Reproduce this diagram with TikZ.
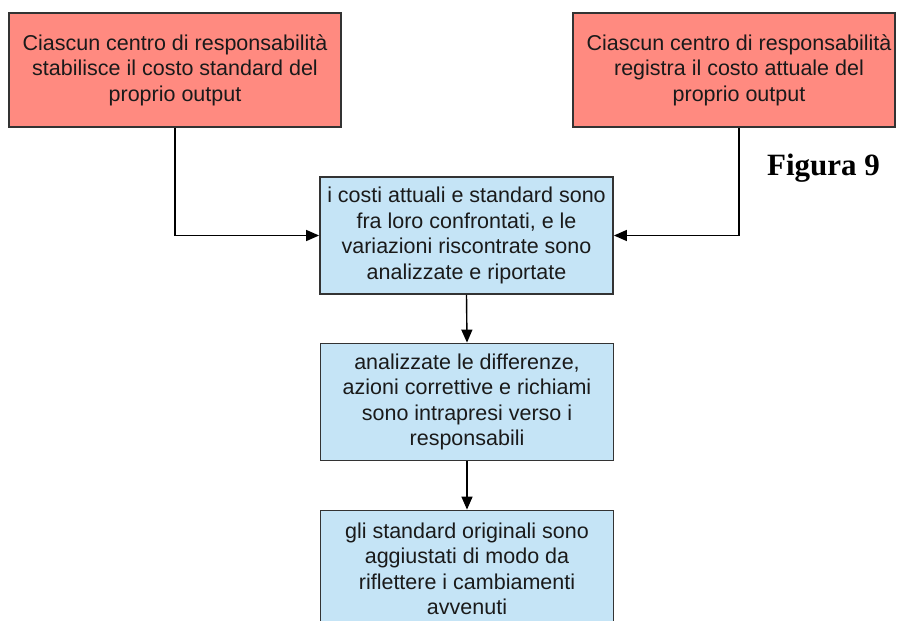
\documentclass[tikz,border=0pt]{standalone}
\usepackage{fontspec}
\setmainfont{Liberation Sans}
\newfontfamily\figfont{Liberation Serif}
\usetikzlibrary{arrows.meta,calc}

\definecolor{boxred}{RGB}{255,138,128}
\definecolor{boxblue}{RGB}{197,228,246}
\definecolor{edge}{RGB}{51,51,51}
\definecolor{ink}{RGB}{26,26,26}

\tikzset{
  flowbox/.style={draw=edge, line width=1.8pt, inner sep=0pt, align=center,
    text=ink, font=\fontsize{21.5}{25.5}\selectfont},
  redbox/.style={flowbox, fill=boxred, minimum height=114pt},
  bluebox/.style={flowbox, fill=boxblue, minimum width=293pt, minimum height=117pt},
  conn/.style={draw=black, line width=1.4pt, -{Triangle[length=13pt,width=11pt]}},
}

\begin{document}
\begin{tikzpicture}[x=1pt,y=-1pt]
  \useasboundingbox (0,0) rectangle (897,621);
  \clip (0,0) rectangle (897,621);

  % source boxes
  \node[redbox, minimum width=332pt] (lbox) at (175,70)
    {Ciascun centro di responsabilità\\stabilisce il costo standard del\\proprio output};
  \node[redbox, minimum width=322pt] (rbox) at (734,70)
    {\hspace*{10pt}Ciascun centro di responsabilità\\\hspace*{10pt}registra il costo attuale del\\\hspace*{10pt}proprio output};

  % process chain
  \node[bluebox] (cmp) at (466.5,235.5)
    {i costi attuali e standard sono\\fra loro confrontati, e le\\variazioni riscontrate sono\\analizzate e riportate};
  \node[bluebox] (act) at (467,402)
    {analizzate le differenze,\\azioni correttive e richiami\\sono intrapresi verso i\\responsabili};
  \node[bluebox] (adj) at (467,569)
    {gli standard originali sono\\aggiustati di modo da\\riflettere i cambiamenti\\avvenuti};

  % caption
  \node[font=\figfont\bfseries\fontsize{31}{36}\selectfont, anchor=base, inner sep=0pt]
    (fig) at (823.5,175) {Figura 9};

  % connectors
  \coordinate (rsrc) at ($(rbox.south)+(5,0)$);
  \draw[conn] (lbox.south) |- (cmp.west);
  \draw[conn] (rsrc) |- (cmp.east);
  \draw[conn] (cmp.south) -- (act.north);
  \draw[conn] (act.south) -- (adj.north);
\end{tikzpicture}
\end{document}
